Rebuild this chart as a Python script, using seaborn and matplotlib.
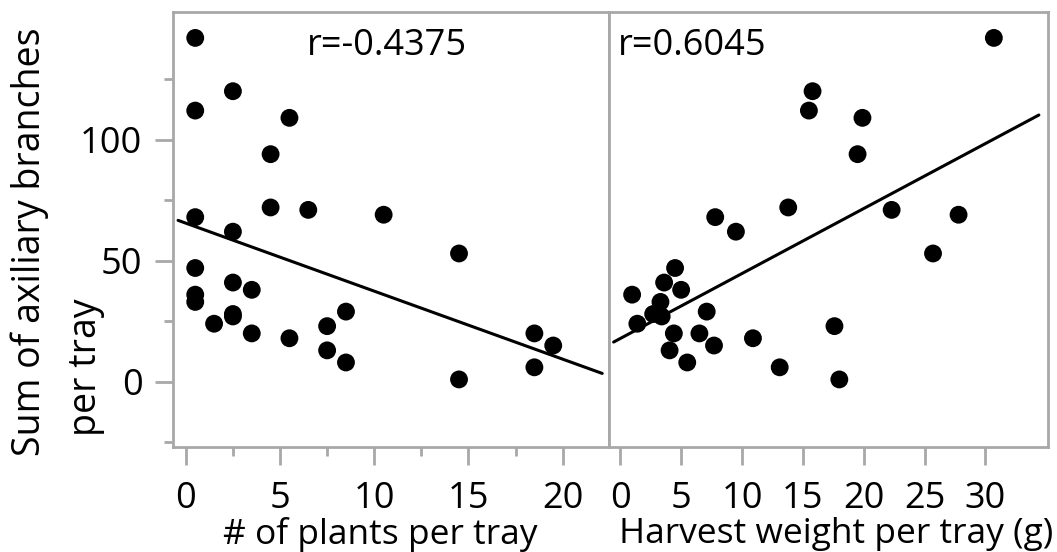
import matplotlib
matplotlib.use("Agg")
import matplotlib.pyplot as plt
from matplotlib.ticker import MultipleLocator, FixedLocator
import seaborn as sns
import pandas as pd

# ---- data ----
plants_per_tray = [0.5, 2.5, 0.5, 5.5, 4.5, 4.5, 6.5, 10.5, 0.5, 2.5, 14.5, 0.5, 2.5, 3.5, 0.5,
                   0.5, 8.5, 2.5, 2.5, 1.5, 7.5, 18.5, 3.5, 5.5, 19.5, 7.5, 8.5, 18.5, 14.5]
harvest_weight = [30.7, 15.8, 15.5, 19.9, 19.5, 13.8, 22.3, 27.8, 7.8, 9.5, 25.7, 4.5, 3.6, 5.0, 0.97,
                  3.3, 7.1, 2.7, 3.4, 1.4, 17.6, 6.5, 4.4, 10.9, 7.7, 4.05, 5.5, 13.1, 18.0]
branches = [142, 120, 112, 109, 94, 72, 71, 69, 68, 62, 53, 47, 41, 38, 36,
            33, 29, 28, 27, 24, 23, 20, 20, 18, 15, 13, 8, 6, 1]
r_labels = ["r=-0.4375", "r=0.6045"]
x_labels = ["# of plants per tray", "Harvest weight per tray (g)"]
y_label_lines = ["Sum of axiliary branches", "per tray"]

df = pd.DataFrame({"plants": plants_per_tray, "weight": harvest_weight, "branches": branches})

sns.set_style("white")
plt.rcParams["font.family"] = ["Open Sans", "DejaVu Sans"]
plt.rcParams["text.color"] = "black"
plt.rcParams["axes.labelcolor"] = "black"
plt.rcParams["xtick.labelcolor"] = "black"
plt.rcParams["ytick.labelcolor"] = "black"

W, H = 1057, 552
fig = plt.figure(figsize=(W / 100, H / 100), dpi=100)

def rect(x0, x1, y0, y1):
    return [x0 / W, 1 - y1 / H, (x1 - x0) / W, (y1 - y0) / H]

axL = fig.add_axes(rect(173, 609, 12, 447))
axR = fig.add_axes(rect(609, 1048, 12, 447))

grey = "#a8a8a8"
line_kws = dict(color="black", lw=2.2)
scatter_kws = dict(s=165, color="black", edgecolor="none", alpha=1)

# left panel
axL.set_xlim(-0.41, 22.1)
sns.regplot(data=df, x="plants", y="branches", ax=axL, ci=None, truncate=False,
            scatter_kws=scatter_kws, line_kws=line_kws)
axL.set_xlim(-0.68, 22.46)

# right panel
axR.set_xlim(-0.55, 34.4)
sns.regplot(data=df, x="weight", y="branches", ax=axR, ci=None, truncate=False,
            scatter_kws=scatter_kws, line_kws=line_kws)
axR.set_xlim(-0.93, 35.15)

for ax in (axL, axR):
    ax.set_ylim(-26.9, 152.7)
    for sp in ax.spines.values():
        sp.set_color(grey)
        sp.set_linewidth(2)
    ax.set_ylabel("")

tick_fs = 26
axL.xaxis.set_major_locator(MultipleLocator(5))
axL.xaxis.set_minor_locator(MultipleLocator(2.5))
axL.yaxis.set_major_locator(FixedLocator([0, 50, 100]))
axL.yaxis.set_minor_locator(FixedLocator([-25, 25, 75, 125]))
axL.tick_params(axis="both", which="major", length=13, width=2, color=grey,
                labelsize=tick_fs, labelcolor="black", direction="out", bottom=True, left=True)
axL.tick_params(axis="x", which="major", pad=11.5)
axL.tick_params(axis="y", which="major", pad=9)
axL.tick_params(axis="both", which="minor", length=6.5, width=2, color=grey,
                direction="out", bottom=True, left=True)

axR.xaxis.set_major_locator(FixedLocator([0, 5, 10, 15, 20, 25, 30]))
axR.tick_params(axis="x", which="major", length=13, width=2, color=grey,
                labelsize=tick_fs, labelcolor="black", direction="out", bottom=True, pad=11.5)
axR.tick_params(axis="y", left=False, labelleft=False)

label_fs = 25.5
axL.set_xlabel(x_labels[0], fontsize=label_fs)
axR.set_xlabel(x_labels[1], fontsize=label_fs)
axL.xaxis.set_label_coords(0.475, -0.160)
axR.xaxis.set_label_coords(0.517, -0.160)

axL.text(0.491, 0.922, r_labels[0], transform=axL.transAxes, ha="center", va="center", fontsize=26)
axR.text(0.02, 0.922, r_labels[1], transform=axR.transAxes, ha="left", va="center", fontsize=26)

fig.text(30 / W, 1 - 241.5 / H, y_label_lines[0], rotation=90, ha="center", va="center", fontsize=27)
fig.text(86 / W, 1 - 367 / H, y_label_lines[1], rotation=90, ha="center", va="center", fontsize=27)

fig.savefig("out.png", dpi=100)
